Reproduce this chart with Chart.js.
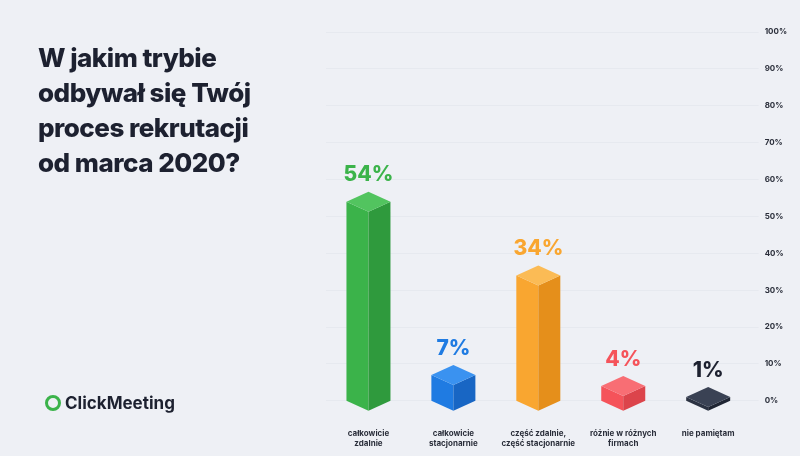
<!DOCTYPE html>
<html><head><meta charset="utf-8">
<script src="https://cdn.jsdelivr.net/npm/chart.js@4"></script>
<style>html,body{margin:0;background:#eef0f5;}#w{position:relative;width:800px;height:456px;}
#t{position:absolute;left:38px;top:40px;font:800 26px/35px Inter,"Open Sans",sans-serif;color:#1d2130;letter-spacing:-0.5px}
#logo{position:absolute;left:45px;top:393px;font:700 17px Inter,sans-serif;color:#1d2130;display:flex;align-items:center;gap:4px}
#logo span.c{display:inline-block;width:16px;height:16px;border:3px solid #3bb34a;border-radius:50%;box-sizing:border-box}
</style></head><body><div id="w">
<div id="t">W jakim trybie<br>odbywał się Twój<br>proces rekrutacji<br>od marca 2020?</div>
<div id="logo"><span class="c"></span>ClickMeeting</div>
<canvas id="c" width="800" height="456"></canvas></div>
<script>
const categories=[["całkowicie","zdalnie"],["całkowicie","stacjonarnie"],["część zdalnie,","część stacjonarnie"],["różnie w różnych","firmach"],["nie pamiętam"]];
const values=[54,7,34,4,1];
const colors=["#3bb34a","#1f7be2","#f9a630","#f5535a","#2b3242"];
const dark=["#2f9a3d","#1866c4","#e58f1b","#dc444b","#1f2533"];
const topc=["#52c45f","#3a92f0","#fbbb55","#f86e74","#3a4254"];
const tickLabels=["0%","10%","20%","30%","40%","50%","60%","70%","80%","90%","100%"];
const iso={id:'iso',afterDatasetsDraw(ch){
 const ctx=ch.ctx,meta=ch.getDatasetMeta(0),ys=ch.scales.y,base=ys.getPixelForValue(0);
 meta.data.forEach((b,i)=>{
  const x=b.x,y=b.y,hw=22,d=10;
  ctx.save();
  ctx.fillStyle=colors[i];ctx.beginPath();ctx.moveTo(x-hw,y);ctx.lineTo(x,y+d);ctx.lineTo(x,base+d);ctx.lineTo(x-hw,base);ctx.closePath();ctx.fill();
  ctx.fillStyle=dark[i];ctx.beginPath();ctx.moveTo(x+hw,y);ctx.lineTo(x,y+d);ctx.lineTo(x,base+d);ctx.lineTo(x+hw,base);ctx.closePath();ctx.fill();
  ctx.fillStyle=topc[i];ctx.beginPath();ctx.moveTo(x-hw,y);ctx.lineTo(x,y-d);ctx.lineTo(x+hw,y);ctx.lineTo(x,y+d);ctx.closePath();ctx.fill();
  ctx.fillStyle=i==4?"#1d2130":colors[i];ctx.font="800 21px Inter,sans-serif";ctx.textAlign="center";ctx.textBaseline="bottom";
  ctx.fillText(values[i]+"%",x,y-16);
  ctx.restore();
 });
}};
new Chart(document.getElementById('c'),{type:'bar',
 data:{labels:categories,datasets:[{data:values,backgroundColor:'rgba(0,0,0,0)',barPercentage:0.5}]},
 plugins:[iso],
 options:{responsive:false,animation:false,
  layout:{padding:{left:326,right:7,top:32,bottom:-12}},
  plugins:{legend:{display:false},tooltip:{enabled:false}},
  scales:{
   x:{grid:{display:false},border:{display:false},ticks:{color:'#2a2e3a',font:{size:8,weight:'700',family:'Inter'},maxRotation:0,padding:20}},
   y:{position:'right',min:0,max:100,border:{display:false},grid:{color:'rgba(200,205,215,0.2)'},
      ticks:{stepSize:10,color:'#2a2e3a',font:{size:8,weight:'700',family:'Inter'},padding:6,callback:(v,i)=>tickLabels[i]}}
  }}});
</script></body></html>
